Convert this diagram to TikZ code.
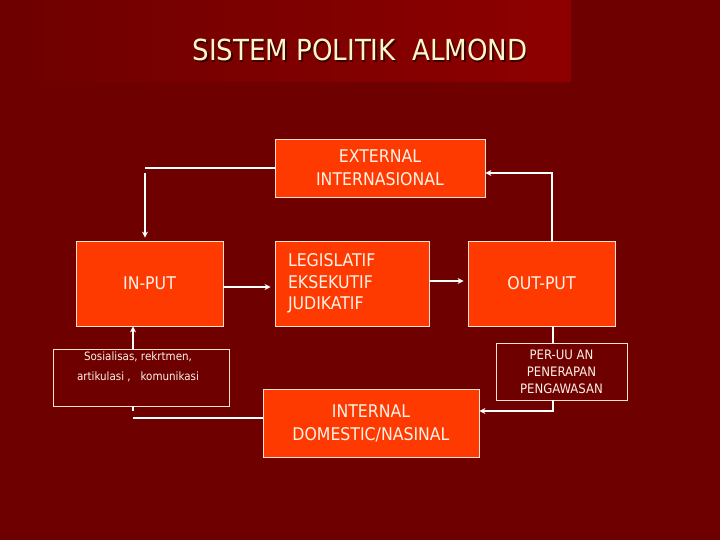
\documentclass[tikz,border=0pt]{standalone}
\usepackage{fontspec}
\setmainfont{DejaVu Sans Condensed}
\usetikzlibrary{arrows.meta}
\definecolor{bg}{HTML}{6E0000}
\definecolor{ban}{HTML}{8E0000}
\definecolor{boxc}{HTML}{FF3A00}
\definecolor{txt}{HTML}{FFF2E8}
\definecolor{ttl}{HTML}{FFF6CC}
\definecolor{shd}{HTML}{3A0000}
\definecolor{edge}{HTML}{FFE0D0}
\tikzset{
  boxn/.style={draw=edge, fill=boxc, line width=0.8pt, inner sep=0pt, text=txt, align=center},
  darkbox/.style={draw=edge, fill=bg, line width=0.8pt, inner sep=0pt},
  conn/.style={draw=white, line width=1.4pt},
  arr/.style={conn, -{Stealth[length=6pt,width=6pt]}},
  bigf/.style={font=\fontsize{17.5}{23}\selectfont},
}
\begin{document}
\begin{tikzpicture}[x=1pt,y=-1pt]
\useasboundingbox (0,0) rectangle (720,540);
\fill[bg] (0,0) rectangle (720,540);
\shade[left color=bg, right color=ban] (0,0) rectangle (571,82);
% title
\node[text=shd, font=\fontsize{29}{34}\selectfont] (ttlshadow) at (361.5,51.5) {SISTEM POLITIK\ \ ALMOND};
\node[text=ttl, font=\fontsize{29}{34}\selectfont] (title) at (360,50) {SISTEM POLITIK\ \ ALMOND};
% boxes
\node[boxn, bigf, minimum width=210pt, minimum height=58pt] (ext) at (380,168) {EXTERNAL\\INTERNASIONAL};
\node[boxn, bigf, minimum width=147pt, minimum height=85pt] (inp) at (149.5,283.5) {IN-PUT};
\node[boxn, font=\fontsize{17.5}{21.5}\selectfont, minimum width=154pt, minimum height=85pt, text width=128pt, inner xsep=13pt, align=left] (legis) at (352,283.5) {LEGISLATIF\\EKSEKUTIF\\JUDIKATIF};
\node[boxn, bigf, minimum width=147pt, minimum height=85pt] (out) at (541.5,283.5) {OUT-PUT};
\node[darkbox, minimum width=176pt, minimum height=57pt] (sos) at (141,377.5) {};
\node[text=txt, font=\fontsize{11.5}{20}\selectfont, align=center] (sostxt) at (138,367) {Sosialisas, rekrtmen,\\artikulasi ,\ \ \ komunikasi};
\node[boxn, bigf, minimum width=216pt, minimum height=68pt] (int) at (371,423) {INTERNAL\\DOMESTIC/NASINAL};
\node[darkbox, text=txt, align=center, font=\fontsize{13}{17}\selectfont, minimum width=131pt, minimum height=57pt] (peruu) at (561.5,371.5) {PER-UU AN\\PENERAPAN\\PENGAWASAN};
% connectors
\coordinate (c1) at (145,168);
\coordinate (c1b) at (145,173);
\draw[conn] (ext.west) -- (c1);
\draw[arr, shorten >=3pt] (c1b) -- (c1b |- inp.north);
\coordinate (c2) at (552,173);
\draw[arr] (out.north -| c2) -- (c2) -- (c2 -| ext.east);
\draw[arr, shorten >=4pt] ([yshift=-3.5pt]inp.east) -- ([yshift=-3.5pt]legis.west);
\draw[arr, shorten >=4pt] ([yshift=2.5pt]legis.east) -- ([yshift=2.5pt]out.west);
\coordinate (c3) at (553,411);
\draw[conn] (out.south -| c3) -- (peruu.north -| c3);
\draw[arr] (peruu.south -| c3) -- (c3) -- (c3 -| int.east);
\coordinate (c4) at (133,418);
\coordinate (c4b) at (133,411);
\draw[conn] (int.west |- c4) -- (c4);
\draw[conn] (c4b |- sos.south) -- (c4b);
\draw[arr] (sos.north -| c4) -- (c4 |- inp.south);
\end{tikzpicture}
\end{document}
